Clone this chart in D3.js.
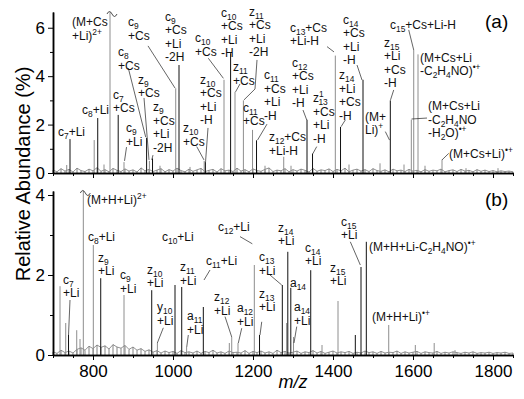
<!DOCTYPE html>
<html>
<head>
<meta charset="utf-8">
<script src="https://cdn.jsdelivr.net/npm/d3@7"></script>
<style>
  body { margin: 0; background: #fff; }
  svg { font-family: "Liberation Sans", Arial, sans-serif; }
</style>
</head>
<body>
<script>
// ---- data ----
// panel (a): Cs/Li adduct spectrum, peak m/z and relative abundance (%)
const mzA = [734.3, 742.5, 803, 811.8, 827.5, 842.5, 863, 877.5, 934, 941, 948.8, 967.5, 1006.8, 1015, 1042.5,
  1078, 1081, 1127.5, 1144, 1155, 1176, 1198.8, 1208.8, 1230, 1276.8, 1295, 1335, 1348.8, 1405.8, 1418.8,
  1440, 1475, 1517.5, 1543.3, 1577.5, 1595.8, 1601.8, 1612.5, 1630, 1672.5, 1732.5, 1812.5];
const abA = [0.33, 1.4, 1.36, 2.27, 0.35, 9, 2.4, 0.45, 1.45, 0.5, 0.6, 0.3, 3.5, 4.46, 0.25,
  0.5, 0.45, 3.85, 4.95, 3.35, 3.0, 1.78, 1.35, 0.3, 0.67, 0.3, 2.2, 0.8, 4.85, 1.9,
  0.35, 3.85, 0.4, 3.0, 0.35, 2.2, 5.08, 4.9, 0.3, 0.55, 0.2, 0.2];
const darkA = [742.5, 811.8, 863, 934, 948.8, 1015, 1081, 1144, 1208.8, 1335, 1348.8, 1418.8, 1475, 1543.3];

// panel (b): H/Li adduct spectrum
const mzB = [717.5, 731.8, 738.8, 759.3, 767.5, 775.8, 800.8, 819.3, 877.5, 946.8, 961, 1005, 1021.8, 1034,
  1075.8, 1140.8, 1146.8, 1162.5, 1203.3, 1216.3, 1273.3, 1284, 1287, 1294.5, 1301.3, 1344.3, 1372.5,
  1412.5, 1455.8, 1470, 1483.3, 1539.3, 1605.8, 1653, 1705];
const abB = [1.72, 0.8, 0.5, 0.62, 0.4, 6, 2.75, 1.92, 1.5, 1.62, 0.3, 1.75, 1.7, 0.2,
  1.2, 0.3, 0.45, 0.3, 2.25, 0.5, 1.75, 0.8, 2.58, 1.68, 0.45, 2.12, 0.25,
  1.35, 0.5, 2.2, 2.83, 0.75, 0.25, 0.3, 0.12];
const darkB = [738.8, 819.3, 946.8, 1005, 1021.8, 1075.8, 1216.3, 1273.3, 1287, 1294.5, 1344.3, 1455.8, 1470, 1483.3];

// baseline noise, one reading every 10 m/z from 700 to 1850
const noiseStart = 700, noiseStep = 10;
const noiseA = [0.12,0.05,0.18,0.08,0.15,0.04,0.2,0.1,0.06,0.16, 0.09,0.22,0.07,0.14,0.05,0.19,0.11,0.06,0.17,0.08,
  0.13,0.04,0.21,0.09,0.15,0.06,0.12,0.18,0.05,0.14, 0.08,0.2,0.1,0.05,0.16,0.07,0.13,0.19,0.06,0.11,
  0.15,0.04,0.18,0.09,0.12,0.06,0.2,0.08,0.14,0.05, 0.17,0.1,0.07,0.15,0.21,0.06,0.12,0.09,0.18,0.05,
  0.14,0.08,0.16,0.11,0.04,0.19,0.07,0.13,0.1,0.17, 0.06,0.15,0.09,0.2,0.05,0.12,0.16,0.08,0.14,0.06,
  0.18,0.1,0.07,0.13,0.05,0.16,0.09,0.12,0.06,0.15, 0.08,0.11,0.05,0.14,0.07,0.12,0.09,0.16,0.05,0.1,
  0.13,0.06,0.15,0.08,0.11,0.05,0.14,0.07,0.12,0.06, 0.1,0.05,0.09,0.06,0.08,0.05];
const noiseB = [0.08,0.04,0.12,0.06,0.1,0.05,0.14,0.18,0.12,0.22, 0.16,0.25,0.19,0.23,0.15,0.26,0.2,0.17,0.24,0.14,
  0.2,0.12,0.16,0.09,0.13,0.07,0.11,0.05,0.1,0.06, 0.09,0.04,0.11,0.06,0.08,0.05,0.1,0.04,0.09,0.06,
  0.12,0.05,0.08,0.04,0.1,0.06,0.07,0.05,0.11,0.04, 0.09,0.06,0.1,0.05,0.08,0.04,0.12,0.06,0.09,0.05,
  0.07,0.1,0.04,0.08,0.06,0.11,0.05,0.09,0.04,0.07, 0.1,0.05,0.08,0.06,0.09,0.04,0.07,0.05,0.1,0.06,
  0.08,0.04,0.09,0.05,0.07,0.06,0.1,0.04,0.08,0.05, 0.07,0.09,0.04,0.08,0.06,0.05,0.09,0.04,0.07,0.05,
  0.08,0.06,0.04,0.07,0.05,0.08,0.04,0.06,0.05,0.07, 0.04,0.06,0.05,0.07,0.04,0.05];

// ticks
const xTicks = [800, 1000, 1200, 1400, 1600, 1800];
const xMinor = d3.range(700, 1851, 50);
const yTicksA = [0, 2, 4, 6], yMinorA = [1, 3, 5];
const yTicksB = [0, 2, 4], yMinorB = [1, 3];

// peak labels: text lines ({} subscript, [] superscript), anchored at (m/z, abundance)
const annA = [
  {t: ["(M+Cs", "+Li)[2+]"], mz: 747.5, ab: 6.07},
  {t: ["c{7}+Li"], mz: 712.5, ab: 1.53},
  {t: ["c{8}+Li"], mz: 772.5, ab: 2.44},
  {t: ["c{7}", "+Cs"], mz: 850, ab: 3.06},
  {t: ["c{9}", "+Li"], mz: 882.5, ab: 1.69},
  {t: ["c{8}", "+Cs"], mz: 862.5, ab: 4.83},
  {t: ["z{9}", "+Cs"], mz: 912.5, ab: 3.68},
  {t: ["z{9}", "+Cs", "+Li", "-2H"], mz: 950, ab: 2.56},
  {t: ["c{9}", "+Cs"], mz: 887.5, ab: 6.07},
  {t: ["c{9}", "+Cs", "+Li", "-2H"], mz: 980, ab: 6.28},
  {t: ["z{10}", "+Cs"], mz: 1025, ab: 1.69},
  {t: ["z{10}", "+Cs", "+Li", "-H"], mz: 1067.5, ab: 3.68},
  {t: ["c{10}", "+Cs"], mz: 1055, ab: 5.41},
  {t: ["c{10}", "+Cs", "+Li", "-H"], mz: 1120, ab: 6.45},
  {t: ["z{11}", "+Cs"], mz: 1150, ab: 4.21},
  {t: ["z{11}", "+Cs", "+Li", "-2H"], mz: 1190, ab: 6.49},
  {t: ["c{11}", "+Cs"], mz: 1175, ab: 2.52},
  {t: ["c{11}", "+Cs", "+Li", "-H"], mz: 1227.5, ab: 3.88},
  {t: ["z{12}+Cs", "+Li-H"], mz: 1240, ab: 1.32},
  {t: ["c{12}", "+Cs", "+Li", "-H"], mz: 1297.5, ab: 4.38},
  {t: ["z[1]{13}", "+Cs", "+Li", "-H"], mz: 1350, ab: 2.93},
  {t: ["c{13}+Cs", "+Li-H"], mz: 1292.5, ab: 5.83},
  {t: ["z{14}", "+Li", "+Cs", "-H"], mz: 1415, ab: 3.88},
  {t: ["c{14}", "+Cs", "+Li", "-H"], mz: 1425, ab: 6.16},
  {t: ["z{15}", "+Li", "+Cs", "-H"], mz: 1527.5, ab: 5.21},
  {t: ["(M+", "Li)[+]"], mz: 1480, ab: 2.15},
  {t: ["c{15}+Cs+Li-H"], mz: 1542.5, ab: 5.95},
  {t: ["(M+Cs+Li", "-C{2}H{4}NO)[•+]"], mz: 1617.5, ab: 4.59},
  {t: ["(M+Cs+Li", "-C{2}H{4}NO", "-H{2}O)[•+]"], mz: 1637.5, ab: 2.6},
  {t: ["(M+Cs+Li)[•+]"], mz: 1690, ab: 0.62}
];
const annB = [
  {t: ["(M+H+Li)[2+]"], mz: 785, ab: 3.78},
  {t: ["c{8}+Li"], mz: 787.5, ab: 2.85},
  {t: ["z{9}", "+Li"], mz: 812.5, ab: 2.33},
  {t: ["c{7}", "+Li"], mz: 725, ab: 1.78},
  {t: ["c{9}", "+Li"], mz: 867.5, ab: 1.9},
  {t: ["z{10}", "+Li"], mz: 935, ab: 2.03},
  {t: ["c{10}+Li"], mz: 972.5, ab: 2.85},
  {t: ["z{11}", "+Li"], mz: 1017.5, ab: 2.1},
  {t: ["c{11}+Li"], mz: 1082.5, ab: 2.25},
  {t: ["y{10}", "+Li"], mz: 960, ab: 1.1},
  {t: ["a{11}", "+Li"], mz: 1035, ab: 0.875},
  {t: ["c{12}+Li"], mz: 1112.5, ab: 3.1},
  {t: ["z{12}", "+Li"], mz: 1102.5, ab: 1.35},
  {t: ["a{12}", "+Li"], mz: 1160, ab: 1.075},
  {t: ["c{13}", "+Li"], mz: 1215, ab: 2.35},
  {t: ["z{13}", "+Li"], mz: 1215, ab: 1.43},
  {t: ["z{14}", "+Li"], mz: 1262.5, ab: 3.08},
  {t: ["a{14}"], mz: 1292.5, ab: 1.7},
  {t: ["a{14}", "+Li"], mz: 1302.5, ab: 1.1},
  {t: ["c{14}", "+Li"], mz: 1330, ab: 2.58},
  {t: ["z{15}", "+Li"], mz: 1392.5, ab: 2.08},
  {t: ["c{15}", "+Li"], mz: 1420, ab: 3.23},
  {t: ["(M+H+Li-C{2}H{4}NO)[•+]"], mz: 1490, ab: 2.6},
  {t: ["(M+H+Li)[•+]"], mz: 1497.5, ab: 0.85}
];

// leader lines from label to peak, [m/z, abundance] points
const leadA = [
  [[883.8, 1.07], [878.8, 0.5]],
  [[888.3, 4.33], [931.8, 1.48]],
  [[927.5, 3.1], [940, 0.54]],
  [[950, 0.74], [946.8, 0.54]],
  [[937.5, 5.25], [1005, 3.51]],
  [[1059.3, 1.09], [1077.5, 0.54]],
  [[1087.5, 1.86], [1081.3, 0.45]],
  [[1088.3, 4.74], [1126, 3.91]],
  [[1167.5, 3.68], [1156.3, 3.35]],
  [[1210, 4.67], [1205, 3.47], [1177.5, 3.02]],
  [[1235, 2.02], [1211.3, 1.36]],
  [[1325, 2.6], [1334.3, 2.19]],
  [[1359.3, 1.09], [1349.3, 0.79]],
  [[1385, 5.22], [1402.5, 5.0]],
  [[1430.8, 2.19], [1420, 1.91]],
  [[1460, 4.46], [1472.5, 3.84]],
  [[1551.8, 3.43], [1543.8, 3.02]],
  [[1530.8, 1.71], [1541.3, 1.36]],
  [[1589.3, 5.91], [1601.8, 5.08]],
  [[1635, 2.27], [1596.3, 2.23]],
  [[1689.3, 0.81], [1672.5, 0.54]]
];
const leadB = [
  [[742.5, 1.375], [738.8, 0.5]],
  [[975.8, 0.68], [960.8, 0.3]],
  [[1038.3, 0.5], [1034.3, 0.2]],
  [[1092.5, 2.125], [1077.5, 1.875]],
  [[1130, 0.96], [1146.8, 0.45]],
  [[1171.8, 0.67], [1163.3, 0.3]],
  [[1167.5, 2.96], [1198.3, 2.78]],
  [[1221.8, 0.83], [1217.5, 0.5]],
  [[1242.5, 2.0], [1271.8, 1.75]],
  [[1309.3, 0.71], [1302.5, 0.3]],
  [[1443.3, 2.83], [1468.3, 2.25]]
];

// ---- drawing ----
const FONT = '"Liberation Sans", Arial, sans-serif';
const LINE = 13.5; // label line step
const svg = d3.select("body").append("svg").attr("width", 524).attr("height", 399);

const x = d3.scaleLinear().domain([700, 1850]).range([53, 513]);
const yA = d3.scaleLinear().domain([0, 6.65]).range([173, 12]);
const yB = d3.scaleLinear().domain([0, 4.1]).range([355, 191]);

// one text element per label; each line restarts at the left edge
function label(g, a, y) {
  const px = x(a.mz);
  const t = g.append("text").attr("x", px).attr("y", y(a.ab))
    .attr("font-size", 12).attr("fill", "#111");
  const re = /\{([^}]*)\}|\[([^\]]*)\]|([^{\[]+)/g;
  let off = 0;
  a.t.forEach((line, k) => {
    let m, supW = 0, first = true;
    re.lastIndex = 0;
    while ((m = re.exec(line)) !== null) {
      let shift = 0, txt = m[3], size = 12;
      if (m[1] !== undefined) { shift = 3; txt = m[1]; size = 8.4; }
      else if (m[2] !== undefined) { shift = -5; txt = m[2]; size = 8.4; }
      const ts = t.append("tspan").attr("font-size", size).text(txt);
      if (first) {
        ts.attr("x", px).attr("dy", (k ? LINE : 0) + shift - off);
        first = false;
      } else {
        ts.attr("dy", shift - off);
      }
      if (m[1] !== undefined && supW) ts.attr("dx", -supW); // stack sub under sup
      supW = m[2] !== undefined ? txt.length * size * 0.556 : 0;
      off = shift;
    }
  });
}

function panel(y, mz, ab, dark, noise, ann, lead, yTicks, yMinor, showX) {
  const g = svg.append("g");
  const top = y.domain()[1];

  // noise floor
  const pts = noise.map((v, i) => [noiseStart + i * noiseStep, v]);
  g.selectAll("line.noise").data(pts).join("line")
    .attr("x1", d => x(d[0])).attr("x2", d => x(d[0]))
    .attr("y1", y(0)).attr("y2", d => y(d[1]))
    .attr("stroke", "#666").attr("stroke-width", 0.8);
  g.append("path").datum(pts)
    .attr("d", d3.line().x(d => x(d[0])).y(d => y(d[1])))
    .attr("fill", "none").attr("stroke", "#777").attr("stroke-width", 0.8);

  // peaks
  const peaks = mz.map((m, i) => ({m: m, v: Math.min(ab[i], top), cut: ab[i] > top}));
  g.selectAll("line.peak").data(peaks).join("line")
    .attr("x1", d => x(d.m)).attr("x2", d => x(d.m))
    .attr("y1", y(0)).attr("y2", d => y(d.v))
    .attr("stroke", d => dark.includes(d.m) ? "#111" : "#8e8e8e")
    .attr("stroke-width", 1);

  // break mark on off-scale peaks
  g.selectAll("path.cut").data(peaks.filter(d => d.cut)).join("path")
    .attr("transform", d => `translate(${x(d.m) + 2},${y(d.v) + 1})`)
    .attr("d", "M-5,1 q2.5,-5 5,0 t5,0")
    .attr("fill", "none").attr("stroke", "#222").attr("stroke-width", 0.8);

  // leaders
  g.selectAll("path.lead").data(lead).join("path")
    .attr("d", d3.line().x(d => x(d[0])).y(d => y(d[1])))
    .attr("fill", "none").attr("stroke", "#222").attr("stroke-width", 0.7);

  ann.forEach(a => label(g, a, y));

  // axes
  const base = y(0);
  g.append("g").attr("transform", `translate(0,${base})`)
    .call(d3.axisBottom(x).tickValues(xMinor).tickSize(3).tickSizeOuter(0).tickFormat(""));
  g.append("g").attr("transform", `translate(0,${base})`)
    .call(d3.axisBottom(x).tickValues(xTicks).tickSize(5).tickSizeOuter(0).tickPadding(5)
      .tickFormat(showX ? d3.format("d") : ""));
  g.append("g").attr("transform", `translate(${x(700)},0)`)
    .call(d3.axisLeft(y).tickValues(yMinor).tickSize(3).tickSizeOuter(0).tickFormat(""));
  g.append("g").attr("transform", `translate(${x(700)},0)`)
    .call(d3.axisLeft(y).tickValues(yTicks).tickSize(5).tickSizeOuter(0).tickPadding(3).tickFormat(d3.format("d")));

  g.selectAll(".domain").attr("stroke", "#000").attr("stroke-width", 1.5);
  g.selectAll(".tick line").attr("stroke", "#000").attr("stroke-width", 1);
  g.selectAll(".tick text").attr("font-family", FONT).attr("font-size", 17).attr("fill", "#000");
  return g;
}

panel(yA, mzA, abA, darkA, noiseA, annA, leadA, yTicksA, yMinorA, false);
panel(yB, mzB, abB, darkB, noiseB, annB, leadB, yTicksB, yMinorB, true);

// panel tags
svg.append("text").attr("x", 485).attr("y", 28).attr("font-size", 19).text("(a)");
svg.append("text").attr("x", 485).attr("y", 206).attr("font-size", 19).text("(b)");

// axis titles
svg.append("text").attr("transform", "translate(30,174) rotate(-90)")
  .attr("text-anchor", "middle").attr("font-size", 20).text("Relative Abundance (%)");
svg.append("text").attr("x", 293).attr("y", 388).attr("text-anchor", "middle")
  .attr("font-style", "italic").attr("font-size", 18).text("m/z");
</script>
</body>
</html>
